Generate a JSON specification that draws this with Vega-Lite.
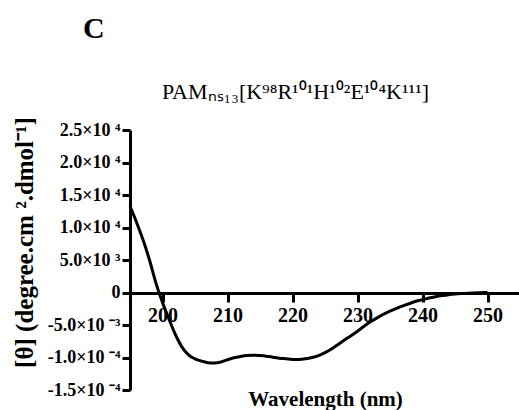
{
  "$schema": "https://vega.github.io/schema/vega-lite/v6.json",
  "width": 390,
  "height": 260,
  "autosize": {"type": "none"},
  "padding": {"left": 130, "top": 130, "right": 0, "bottom": 20},
  "background": "white",
  "config": {"view": {"stroke": null}, "font": "Liberation Serif"},
  "title": {"text": "C", "anchor": "start", "frame": "group", "dx": -47, "offset": 36, "fontSize": 30, "font": "Liberation Serif", "fontWeight": "bold", "color": "black"},
  "data": {"values": [
    {"wl": 195, "v": 13300}, {"wl": 196, "v": 10800}, {"wl": 197, "v": 8100}, {"wl": 198, "v": 5000},
    {"wl": 199, "v": 1400}, {"wl": 200, "v": -1550}, {"wl": 201, "v": -4100}, {"wl": 202, "v": -6500},
    {"wl": 203, "v": -8400}, {"wl": 204, "v": -9600}, {"wl": 205, "v": -10200}, {"wl": 206, "v": -10550},
    {"wl": 207, "v": -10800}, {"wl": 208, "v": -10850}, {"wl": 209, "v": -10700}, {"wl": 210, "v": -10350},
    {"wl": 211, "v": -10050}, {"wl": 212, "v": -9850}, {"wl": 213, "v": -9700}, {"wl": 214, "v": -9650},
    {"wl": 215, "v": -9700}, {"wl": 216, "v": -9800}, {"wl": 217, "v": -9950}, {"wl": 218, "v": -10100},
    {"wl": 219, "v": -10200}, {"wl": 220, "v": -10300}, {"wl": 221, "v": -10300}, {"wl": 222, "v": -10200},
    {"wl": 223, "v": -10000}, {"wl": 224, "v": -9700}, {"wl": 225, "v": -9250}, {"wl": 226, "v": -8700},
    {"wl": 227, "v": -8000}, {"wl": 228, "v": -7300}, {"wl": 229, "v": -6650}, {"wl": 230, "v": -5950},
    {"wl": 231, "v": -5200}, {"wl": 232, "v": -4500}, {"wl": 233, "v": -3900}, {"wl": 234, "v": -3350},
    {"wl": 235, "v": -2880}, {"wl": 236, "v": -2450}, {"wl": 237, "v": -2050}, {"wl": 238, "v": -1700},
    {"wl": 239, "v": -1350}, {"wl": 240, "v": -1100}, {"wl": 241, "v": -850}, {"wl": 242, "v": -650},
    {"wl": 243, "v": -480}, {"wl": 244, "v": -330}, {"wl": 245, "v": -220}, {"wl": 246, "v": -150},
    {"wl": 247, "v": -100}, {"wl": 248, "v": -60}, {"wl": 249, "v": -30}, {"wl": 250, "v": -10}
  ]},
  "resolve": {"axis": {"x": "independent"}},
  "layer": [
    {
      "mark": {"type": "line", "color": "black", "strokeWidth": 3, "interpolate": "monotone"},
      "encoding": {
        "x": {"field": "wl", "type": "quantitative",
          "scale": {"domain": [195, 255], "nice": false, "zero": false},
          "axis": {"orient": "bottom", "offset": -97, "values": [200, 210, 220, 230, 240, 250],
            "domainColor": "black", "domainWidth": 3, "tickColor": "black", "tickWidth": 3, "tickSize": 9,
            "grid": false, "labelFont": "Liberation Serif", "labelFontWeight": "bold", "labelFontSize": 20,
            "labelColor": "black", "labelPadding": 3, "labelFlush": false, "labelOverlap": false,
            "title": "Wavelength (nm)", "titleFont": "Liberation Serif", "titleFontWeight": "bold", "titleFontSize": 21,
            "titleColor": "black", "titleY": 95, "titleBaseline": "top"}},
        "y": {"field": "v", "type": "quantitative",
          "scale": {"domain": [-15000, 25000], "nice": false},
          "axis": {"orient": "left", "values": [-15000, -10000, -5000, 0, 5000, 10000, 15000, 20000, 25000],
            "labelExpr": "datum.value == 25000 ? '2.5×10 ⁴' : datum.value == 20000 ? '2.0×10 ⁴' : datum.value == 15000 ? '1.5×10 ⁴' : datum.value == 10000 ? '1.0×10 ⁴' : datum.value == 5000 ? '5.0×10 ³' : datum.value == 0 ? '0' : datum.value == -5000 ? '-5.0×10 ⁻³' : datum.value == -10000 ? '-1.0×10 ⁻⁴' : '-1.5×10 ⁻⁴'",
            "domainColor": "black", "domainWidth": 3, "tickColor": "black", "tickWidth": 3, "tickSize": 8,
            "grid": false, "labelFont": "Liberation Serif", "labelFontWeight": "bold", "labelFontSize": 18,
            "labelColor": "black", "labelPadding": 2, "labelFlush": false, "labelOverlap": false,
            "title": "[θ] (degree.cm ².dmol⁻¹]", "titleFont": "Liberation Serif", "titleFontWeight": "bold", "titleFontSize": 25,
            "titleColor": "black", "titleX": -98, "titleY": 112, "titleBaseline": "alphabetic", "titleAlign": "center", "titleAngle": -90}}
      }
    },
    {
      "mark": {"type": "point", "opacity": 0},
      "encoding": {
        "x": {"field": "wl", "type": "quantitative",
          "scale": {"domain": [195, 255], "nice": false, "zero": false},
          "axis": {"orient": "top", "domain": false, "ticks": false, "labels": false, "grid": false,
            "title": "PAMₙₛ₁₃[K⁹⁸R¹⁰¹H¹⁰²E¹⁰⁴K¹¹¹]", "titleFont": "Liberation Serif", "titleFontWeight": "normal",
            "titleFontSize": 22, "titleColor": "black", "titleX": 165, "titleY": -32, "titleBaseline": "alphabetic", "titleAlign": "center"}}
      }
    }
  ]
}
